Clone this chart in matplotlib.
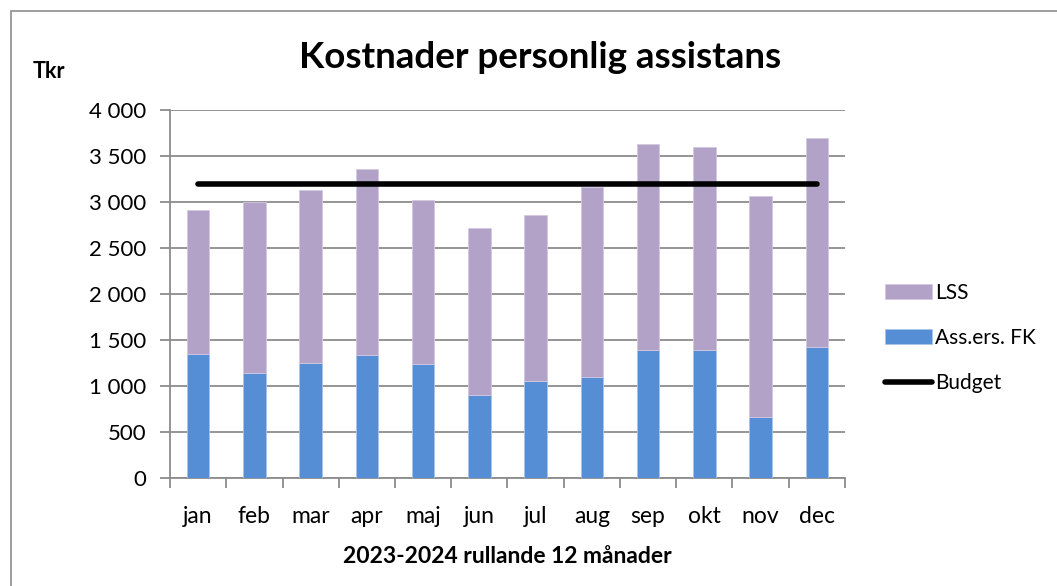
import numpy as np
import matplotlib.pyplot as plt
from matplotlib.patches import Rectangle
from matplotlib.ticker import FuncFormatter, FixedLocator

plt.rcParams['font.family'] = ['Lato', 'DejaVu Sans']

months = ['jan', 'feb', 'mar', 'apr', 'maj', 'jun', 'jul', 'aug', 'sep', 'okt', 'nov', 'dec']
total = [2910, 2995, 3135, 3359, 3018, 2714, 2855, 3160, 3635, 3602, 3065, 3700]
ass_fk = [1350, 1143, 1252, 1339, 1241, 902, 1051, 1098, 1394, 1394, 664, 1427]
lss = [t - a for t, a in zip(total, ass_fk)]
budget = [3200] * 12

fig = plt.figure(figsize=(10.57, 5.86), dpi=100)
# outer chart frame
fig.patches.append(Rectangle((11 / 1057, -0.05), 1.2, (586 - 11) / 586 + 0.05,
                             transform=fig.transFigure, fill=False,
                             edgecolor='#8c8c8c', lw=1.2))

ax = fig.add_axes([170 / 1057, 1 - 478 / 586, 675 / 1057, 368 / 586])
x = np.arange(len(months))
ax.bar(x, ass_fk, width=0.4, color='#558ED5', edgecolor='#a9c4ea', lw=0.6,
       label='Ass.ers. FK', zorder=3)
ax.bar(x, lss, width=0.4, bottom=ass_fk, color='#B3A2C7', edgecolor='#d3c8e0',
       lw=0.6, label='LSS', zorder=3)
ax.plot(x, budget, color='black', lw=4, solid_capstyle='round',
        label='Budget', zorder=4)

ax.set_xlim(-0.5, 11.5)
ax.set_ylim(0, 4000)
ax.set_yticks(np.arange(0, 4001, 500))
ax.yaxis.set_major_formatter(FuncFormatter(lambda v, p: f'{int(v):,}'.replace(',', ' ')))
ax.set_xticks(x)
ax.set_xticklabels(months)
ax.xaxis.set_minor_locator(FixedLocator(np.arange(-0.5, 12, 1)))
ax.tick_params(axis='x', which='major', length=0, pad=20, labelsize=16.5)
ax.tick_params(axis='x', which='minor', length=7, width=1.3, color='#8c8c8c')
ax.tick_params(axis='y', length=7, width=1.3, color='#8c8c8c', labelsize=16, pad=10)
ax.grid(axis='y', color='#8c8c8c', lw=1.3, zorder=0)
for s in ['top', 'right']:
    ax.spines[s].set_visible(False)
for s in ['left', 'bottom']:
    ax.spines[s].set_color('#8c8c8c')
    ax.spines[s].set_linewidth(1.3)

ax.set_xlabel('2023-2024 rullande 12 månader', fontsize=16.5, fontweight='bold', labelpad=14)
fig.text(540 / 1057, 1 - 57 / 586, 'Kostnader personlig assistans', fontsize=26.5,
         fontweight='bold', ha='center', va='center')
fig.text(33 / 1057, 1 - 72 / 586, 'Tkr', fontsize=15.5, fontweight='bold', va='center')

handles, labels = ax.get_legend_handles_labels()
order = [labels.index('LSS'), labels.index('Ass.ers. FK'), labels.index('Budget')]
leg = fig.legend([handles[i] for i in order], [labels[i] for i in order],
                 loc='center left', bbox_to_anchor=(885 / 1057, 1 - 338 / 586),
                 frameon=False, fontsize=15, handlelength=2.25, handleheight=0.7,
                 labelspacing=1.2, handletextpad=0.15, borderpad=0, borderaxespad=0)

fig.savefig('out.png', dpi=100)
